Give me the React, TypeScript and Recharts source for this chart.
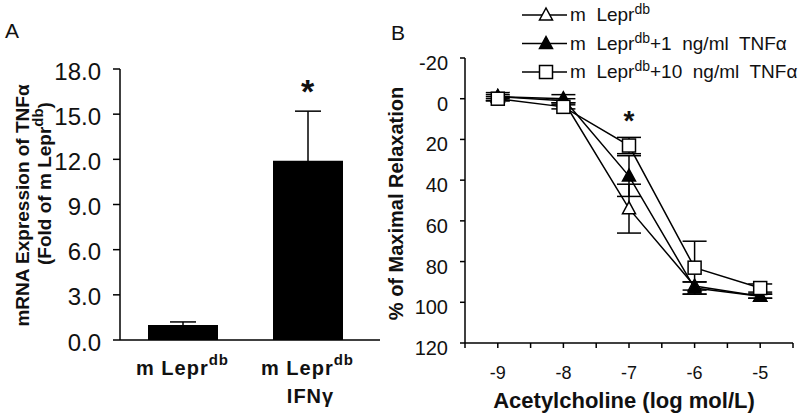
import {
  BarChart, Bar, XAxis, YAxis, ErrorBar, ReferenceDot,
  LineChart, Line, Legend,
} from "recharts";

const FONT = "'Liberation Sans', Arial, Helvetica, sans-serif";
const INK = "#111";

// Panel A — TNFα mRNA, fold of m Lepr^db
const groups = ["ctrl", "ifn"];
const groupLine1 = ["m Lepr", "m Lepr"];
const groupSup = ["db", "db"];
const groupLine2 = ["", "IFNγ"];
const foldMean = [1.0, 11.9];
const foldErr = [0.2, 3.3];
const foldTicks = [0, 3, 6, 9, 12, 15, 18];
const foldStarGroup = "ifn";
const foldStarY = 17.0;

// Panel B — ACh relaxation curves
const doses = [-9, -8, -7, -6, -5];
const doseTicks = [-9.5, -9, -8.5, -8, -7.5, -7, -6.5, -6, -5.5, -5, -4.5];
const relaxTicks = [-20, 0, 20, 40, 60, 80, 100, 120];
const ctrlMean = [-1, 1, 54, 92, 97];
const ctrlErr = [1, 1, 12, 2, 1];
const tnf1Mean = [-1, 0, 38, 93, 97];
const tnf1Err = [2, 2, 10, 3, 1];
const tnf10Mean = [0, 4, 23, 83, 93];
const tnf10Err = [1, 1, 4, 13, 2];
const seriesSuffix = ["", "+1  ng/ml  TNFα", "+10  ng/ml  TNFα"];
const seriesKind = ["openTri", "fillTri", "square"] as const;
const relaxStarDose = -7;
const relaxStarY = 8;

const foldRows = groups.map((g, i) => ({ g, mean: foldMean[i], err: foldErr[i] }));
const relaxRows = doses.map((d, i) => ({
  dose: d,
  ctrl: ctrlMean[i], ctrlErr: ctrlErr[i],
  tnf1: tnf1Mean[i], tnf1Err: tnf1Err[i],
  tnf10: tnf10Mean[i], tnf10Err: tnf10Err[i],
}));

type Kind = (typeof seriesKind)[number];

function Marker({ kind, cx, cy }: { kind: Kind; cx: number; cy: number }) {
  if (kind === "square") {
    return <rect x={cx - 6.5} y={cy - 6.5} width={13} height={13} fill="#fff" stroke="#000" strokeWidth={1.5} />;
  }
  const pts = `${cx},${cy - 7} ${cx - 6.5},${cy + 5} ${cx + 6.5},${cy + 5}`;
  return <polygon points={pts} fill={kind === "fillTri" ? "#000" : "#fff"} stroke="#000" strokeWidth={1.5} />;
}

function dotFor(kind: Kind) {
  return (p: any) => <Marker key={`${kind}-${p.index}`} kind={kind} cx={p.cx} cy={p.cy} />;
}

function GroupTick({ x, y, payload }: any) {
  const i = groups.indexOf(payload.value);
  return (
    <g transform={`translate(${x},${y})`} fontFamily={FONT} fontWeight="bold" fill={INK}>
      <text textAnchor="middle" y={35} fontSize={20} letterSpacing={1}>
        <tspan>{groupLine1[i]}</tspan>
        <tspan fontSize={15} dy={-10}>{groupSup[i]}</tspan>
      </text>
      {groupLine2[i] && (
        <text textAnchor="middle" x={3} y={63} fontSize={20} letterSpacing={1}>{groupLine2[i]}</text>
      )}
    </g>
  );
}

// value ticks sit a little below their tick marks in the original
function ValueTick({ x, y, payload, fontSize, shift, fmt }: any) {
  return (
    <text x={x} y={y + shift} textAnchor="end" dominantBaseline="central" fontFamily={FONT} fontSize={fontSize} fill={INK}>
      {fmt ? fmt(payload.value) : payload.value}
    </text>
  );
}

function FoldLabel({ viewBox }: any) {
  const cy = viewBox.y + viewBox.height / 2;
  return (
    <g fontFamily={FONT} fontWeight="bold" fontSize={19} fill={INK}>
      <text transform={`translate(${viewBox.x + 22},${cy + 1}) rotate(-90)`} textAnchor="middle" dominantBaseline="central">
        mRNA  Expression of TNFα
      </text>
      <text transform={`translate(${viewBox.x + 44},${cy - 21}) rotate(-90)`} textAnchor="middle" dominantBaseline="central">
        <tspan>(Fold of m Lepr</tspan>
        <tspan fontSize={15} dy={-7}>db</tspan>
        <tspan dy={7}>)</tspan>
      </text>
    </g>
  );
}

function RelaxLabel({ viewBox }: any) {
  const cy = viewBox.y + viewBox.height / 2;
  return (
    <text transform={`translate(${viewBox.x + 11},${cy + 3}) rotate(-90)`} textAnchor="middle" dominantBaseline="central"
      fontFamily={FONT} fontWeight="bold" fontSize={20} fill={INK}>
      % of Maximal Relaxation
    </text>
  );
}

function DoseLabel({ viewBox }: any) {
  return (
    <text x={viewBox.x + viewBox.width / 2 - 5} y={viewBox.y + 65} textAnchor="middle"
      fontFamily={FONT} fontWeight="bold" fontSize={22} fill={INK}>
      Acetylcholine (log mol/L)
    </text>
  );
}

function Star({ cx, cy, size }: any) {
  return (
    <text x={cx} y={cy + size * 0.55} textAnchor="middle" fontFamily={FONT} fontWeight="bold" fontSize={size} fill={INK}>*</text>
  );
}

function SeriesKey() {
  return (
    <svg width={290} height={90} style={{ overflow: "visible" }}>
      {seriesKind.map((k, i) => {
        const y = 15 + i * 28.5;
        return (
          <g key={k}>
            <line x1={7} x2={52} y1={y} y2={y} stroke="#000" strokeWidth={1.5} />
            <Marker kind={k} cx={31} cy={y} />
            <text x={55} y={y + 6} fontFamily={FONT} fontSize={19} fill={INK} style={{ whiteSpace: "pre" }}>
              <tspan>m  Lepr</tspan>
              <tspan fontSize={14} dy={-7}>db</tspan>
              <tspan dy={7}>{seriesSuffix[i]}</tspan>
            </text>
          </g>
        );
      })}
    </svg>
  );
}

export default function App() {
  const axisLine = { stroke: "#000", strokeWidth: 1.5 };
  const tickLine = { stroke: "#000", strokeWidth: 1.5 };
  return (
    <div style={{ position: "absolute", left: 0, top: 0, width: 800, height: 413, background: "#fff", overflow: "hidden" }}>
      <div style={{ position: "absolute", left: 0, top: 0 }}>
        <BarChart width={385} height={413} data={foldRows} margin={{ top: 69, right: 5, bottom: 0, left: 0 }}>
          <XAxis dataKey="g" height={73} axisLine={axisLine} tickLine={false} tickSize={0} tickMargin={0}
            padding={{ left: 0, right: 10 }} tick={<GroupTick />} interval={0} />
          <YAxis width={120} domain={[0, 18]} ticks={foldTicks} interval={0} axisLine={axisLine}
            tickLine={tickLine} tickSize={7} tickMargin={12}
            tick={<ValueTick fontSize={24} shift={2} fmt={(v: number) => v.toFixed(1)} />} label={<FoldLabel />} />
          <Bar dataKey="mean" fill="#000" barSize={70} isAnimationActive={false}>
            <ErrorBar dataKey="err" width={13} stroke="#000" strokeWidth={1.5} direction="y" />
          </Bar>
          <ReferenceDot x={foldStarGroup} y={foldStarY} shape={(p: any) => <Star {...p} size={34} />} />
        </BarChart>
      </div>
      <div style={{ position: "absolute", left: 385, top: 0 }}>
        <LineChart width={415} height={413} data={relaxRows} margin={{ top: 58, right: 7, bottom: 0, left: 0 }}>
          <XAxis dataKey="dose" type="number" domain={[-9.5, -4.5]} ticks={doseTicks} interval={0} height={70}
            axisLine={axisLine} tickLine={tickLine} tickSize={5} tickMargin={18}
            tickFormatter={(v: number) => (Number.isInteger(v) ? String(v) : "")}
            tick={{ fontFamily: FONT, fontSize: 18, fill: INK }} label={<DoseLabel />} />
          <YAxis type="number" domain={[-20, 120]} reversed ticks={relaxTicks} interval={0} width={80}
            axisLine={axisLine} tickLine={tickLine} tickSize={5} tickMargin={12}
            tick={<ValueTick fontSize={20} shift={5} />} label={<RelaxLabel />} />
          <Line dataKey="ctrl" stroke="#000" strokeWidth={1.5} dot={dotFor("openTri")} isAnimationActive={false}>
            <ErrorBar dataKey="ctrlErr" width={12} stroke="#000" strokeWidth={1.5} direction="y" />
          </Line>
          <Line dataKey="tnf1" stroke="#000" strokeWidth={1.5} dot={dotFor("fillTri")} isAnimationActive={false}>
            <ErrorBar dataKey="tnf1Err" width={12} stroke="#000" strokeWidth={1.5} direction="y" />
          </Line>
          <Line dataKey="tnf10" stroke="#000" strokeWidth={1.5} dot={dotFor("square")} isAnimationActive={false}>
            <ErrorBar dataKey="tnf10Err" width={12} stroke="#000" strokeWidth={1.5} direction="y" />
          </Line>
          <ReferenceDot x={relaxStarDose} y={relaxStarY} shape={(p: any) => <Star {...p} size={28} />} />
          <Legend layout="horizontal" verticalAlign="middle" align="center" content={<SeriesKey />}
            wrapperStyle={{ top: 0, left: 130, width: 290, height: 90 }} />
        </LineChart>
      </div>
      <svg width={800} height={413} style={{ position: "absolute", left: 0, top: 0, pointerEvents: "none" }}>
        <text x={5} y={38} fontFamily={FONT} fontSize={21} fill={INK}>A</text>
        <text x={391} y={40} fontFamily={FONT} fontSize={21} fill={INK}>B</text>
      </svg>
    </div>
  );
}
